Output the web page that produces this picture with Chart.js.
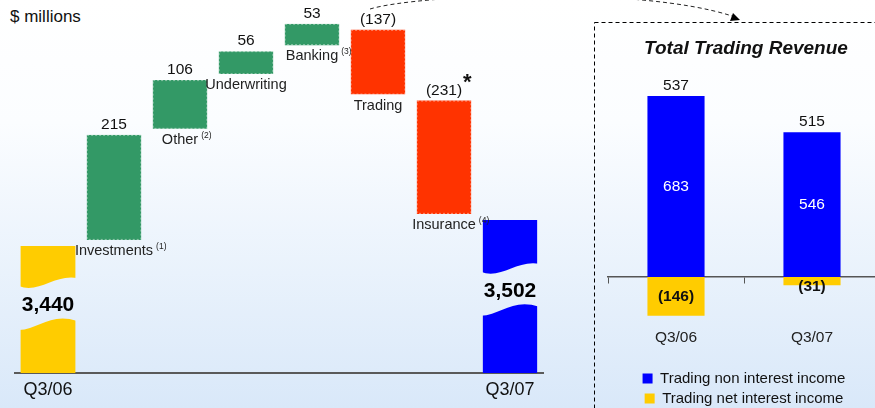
<!DOCTYPE html>
<html>
<head>
<meta charset="utf-8">
<script src="https://cdn.jsdelivr.net/npm/chart.js@4/dist/chart.umd.min.js"></script>
<style>
  html, body { margin: 0; padding: 0; width: 875px; height: 408px; overflow: hidden; }
  body {
    position: relative;
    background: linear-gradient(to bottom, #ffffff 0%, #fbfdff 30%, #d9e8f9 100%);
    font-family: "Liberation Sans", Arial, sans-serif;
  }
  #leftBox { position: absolute; left: 0; top: 0; width: 590px; height: 408px; }
  #rightBox { position: absolute; left: 596px; top: 0; width: 300px; height: 416px; }
  .unit { position: absolute; left: 10px; top: 8px; font-size: 17px; line-height: 17px; color: #111; }
  .panelTitle { position: absolute; left: 596px; width: 300px; top: 38px; text-align: center;
    font: italic bold 19px/20px "Liberation Sans", Arial, sans-serif; color: #111; }
  #overlay { position: absolute; left: 0; top: 0; pointer-events: none; }
</style>
</head>
<body>
<div class="unit">$ millions</div>
<div id="leftBox"><canvas id="bridgeChart" width="590" height="408"></canvas></div>
<div id="rightBox"><canvas id="tradingChart" width="300" height="416"></canvas></div>
<div class="panelTitle">Total Trading Revenue</div>
<svg id="overlay" width="875" height="408">
  <rect x="594.5" y="22.5" width="400" height="500" fill="none" stroke="#000" stroke-width="1" stroke-dasharray="4 3"/>
  <path d="M 370 9 C 420 -6, 640 -14, 732 16" fill="none" stroke="#222" stroke-width="1" stroke-dasharray="4 3"/>
  <polygon points="740,20 730,21 733,13" fill="#000"/>
</svg>
<script>
// Earnings bridge Q3/06 -> Q3/07 ($ millions)
const categories = ['Q3/06', 'Investments', 'Other', 'Underwriting', 'Banking', 'Trading', 'Insurance', 'Q3/07'];
const categoryNotes = ['', '(1)', '(2)', '', '(3)', '', '(4)', ''];
const startTotal = 3440;
const stepChanges = [215, 106, 56, 53, -137, -231];
const endTotal = 3502;
const starredCategory = 'Insurance';

// Total trading revenue panel
const tradingPeriods = ['Q3/06', 'Q3/07'];
const tradingNonInterest = [683, 546];
const tradingNetInterest = [-146, -31];

const GREEN = '#339966', RED = '#ff3300', YELLOW = '#ffcc00', BLUE = '#0000ff';
const STEP_GAP = 6;
const FONT = '"Liberation Sans", Arial, sans-serif';

// floating bars for the bridge
let running = startTotal;
const bridgeData = [[0, startTotal]];
stepChanges.forEach(v => {
    bridgeData.push([running, running + v]);
    running += v;
});
bridgeData.push([0, endTotal]);

const lastIdx = categories.length - 1;
const isTotal = i => i === 0 || i === lastIdx;
const barColors = bridgeData.map((d, i) => {
    if (i === 0) return YELLOW;
    if (i === lastIdx) return BLUE;
    return stepChanges[i - 1] >= 0 ? GREEN : RED;
});

function fmt(v) {
    const s = Math.abs(v).toLocaleString('en-US');
    return v < 0 ? '(' + s + ')' : s;
}

// which side of bar i gets a small gap (the side touching the previous level)
function gapSide(i) {
    if (i === 0) return null;
    if (i === lastIdx) return 'top';
    return stepChanges[i - 1] >= 0 ? 'bottom' : 'top';
}

function paintedRect(chart, bar, i) {
    let top = bar.y;
    let bottom = Math.min(bar.base, chart.chartArea.bottom);
    const side = gapSide(i);
    if (side === 'top') top += STEP_GAP;
    if (side === 'bottom') bottom -= STEP_GAP;
    return { left: bar.x - bar.width / 2, right: bar.x + bar.width / 2, top, bottom };
}

const bridgeLabels = {
    id: 'bridgeLabels',
    afterDatasetsDraw(chart) {
        const ctx = chart.ctx;
        const bars = chart.getDatasetMeta(0).data;
        bars.forEach((bar, i) => {
            const r = paintedRect(chart, bar, i);
            const w = r.right - r.left;
            ctx.save();
            if (isTotal(i)) {
                // wavy axis break
                const yc = r.top + 0.45 * (r.bottom - r.top);
                const hh = 20;
                const x0 = r.left - 2, x1 = r.right + 2, bw = x1 - x0;
                const up = yc - hh, lo = yc + hh;
                ctx.globalCompositeOperation = 'destination-out';
                ctx.beginPath();
                ctx.moveTo(x0, up + 3);
                ctx.bezierCurveTo(x0 + 0.35 * bw, up + 11, x0 + 0.6 * bw, up - 9, x1, up - 5);
                ctx.lineTo(x1, lo - 2);
                ctx.bezierCurveTo(x0 + 0.55 * bw, lo - 11, x0 + 0.35 * bw, lo + 6, x0, lo + 7);
                ctx.closePath();
                ctx.fill();
                ctx.globalCompositeOperation = 'source-over';
                ctx.fillStyle = '#000';
                ctx.font = 'bold 21px ' + FONT;
                ctx.textAlign = 'center';
                ctx.textBaseline = 'middle';
                ctx.fillText(fmt(i === 0 ? startTotal : endTotal), bar.x, yc + 2);
            } else {
                const change = stepChanges[i - 1];
                // light dashed outline
                ctx.strokeStyle = 'rgba(255,255,255,0.45)';
                ctx.lineWidth = 1;
                ctx.setLineDash([2, 2]);
                ctx.strokeRect(r.left + 0.5, r.top + 0.5, w - 1, r.bottom - r.top - 1);
                ctx.setLineDash([]);
                // value above
                ctx.fillStyle = '#111';
                ctx.font = '15.5px ' + FONT;
                ctx.textAlign = 'center';
                ctx.textBaseline = 'alphabetic';
                const txt = fmt(change);
                ctx.fillText(txt, bar.x, r.top - 6);
                if (categories[i] === starredCategory) {
                    const tw = ctx.measureText(txt).width;
                    ctx.font = 'bold 22px ' + FONT;
                    ctx.textAlign = 'left';
                    ctx.fillText('*', bar.x + tw / 2 + 1, r.top - 12);
                }
                // category name below
                ctx.font = '14.5px ' + FONT;
                ctx.textAlign = 'center';
                ctx.fillStyle = '#222';
                ctx.fillText(categories[i], bar.x, r.bottom + 15);
                if (categoryNotes[i]) {
                    const nw = ctx.measureText(categories[i]).width;
                    ctx.font = '8.5px ' + FONT;
                    ctx.textAlign = 'left';
                    ctx.fillText(categoryNotes[i], bar.x + nw / 2 + 3, r.bottom + 9);
                }
            }
            ctx.restore();
        });
    }
};

new Chart(document.getElementById('bridgeChart'), {
    type: 'bar',
    data: {
        labels: categories,
        datasets: [{
            data: bridgeData,
            backgroundColor: barColors,
            borderColor: 'rgba(0,0,0,0)',
            borderSkipped: false,
            borderWidth: ctx => {
                const side = gapSide(ctx.dataIndex);
                if (!side) return 0;
                const bw = { top: 0, bottom: 0, left: 0, right: 0 };
                bw[side] = STEP_GAP;
                return bw;
            },
            barPercentage: 0.83,
            categoryPercentage: 1
        }]
    },
    options: {
        responsive: false,
        animation: false,
        layout: { padding: { left: 15, right: 47, top: 15, bottom: 1.4 } },
        plugins: { legend: { display: false }, tooltip: { enabled: false } },
        scales: {
            x: {
                grid: { display: false, drawTicks: false },
                border: { display: true, color: '#5a5a5a', width: 2 },
                ticks: {
                    padding: 6, color: '#111', autoSkip: false, maxRotation: 0,
                    font: { size: 18, family: FONT },
                    callback: (v, i) => isTotal(i) ? categories[i] : ''
                }
            },
            y: { display: false, min: 3194, max: 3887 }
        }
    },
    plugins: [bridgeLabels]
});

// trading panel
const tradingTotals = tradingNonInterest.map((v, i) => v + tradingNetInterest[i]);

const tradingLabels = {
    id: 'tradingLabels',
    afterDatasetsDraw(chart) {
        const ctx = chart.ctx;
        ctx.save();
        ctx.textAlign = 'center';
        chart.getDatasetMeta(0).data.forEach((bar, i) => {
            ctx.font = '15.5px ' + FONT;
            ctx.fillStyle = '#111';
            ctx.textBaseline = 'alphabetic';
            ctx.fillText(fmt(tradingTotals[i]), bar.x, bar.y - 6);
            ctx.fillStyle = '#fff';
            ctx.textBaseline = 'middle';
            ctx.fillText(fmt(tradingNonInterest[i]), bar.x, (bar.y + bar.base) / 2);
        });
        chart.getDatasetMeta(1).data.forEach((bar, i) => {
            ctx.font = 'bold 15.5px ' + FONT;
            ctx.fillStyle = '#111';
            ctx.textBaseline = 'middle';
            ctx.fillText(fmt(tradingNetInterest[i]), bar.x, Math.max((bar.y + bar.base) / 2, bar.base + 10));
        });
        ctx.restore();
    }
};

new Chart(document.getElementById('tradingChart'), {
    type: 'bar',
    data: {
        labels: tradingPeriods,
        datasets: [
            { label: 'Trading non interest income', data: tradingNonInterest, backgroundColor: BLUE, borderWidth: 0, barPercentage: 0.42, categoryPercentage: 1 },
            { label: 'Trading net interest income', data: tradingNetInterest, backgroundColor: YELLOW, borderWidth: 0, barPercentage: 0.42, categoryPercentage: 1 }
        ]
    },
    options: {
        responsive: false,
        animation: false,
        layout: { padding: { left: 12, right: 16, top: 60, bottom: 0 } },
        plugins: {
            tooltip: { enabled: false },
            legend: {
                position: 'bottom',
                labels: { boxWidth: 10, boxHeight: 10, padding: 5, color: '#111', font: { size: 15, family: FONT } }
            }
        },
        scales: {
            x: {
                stacked: true,
                position: { y: 0 },
                grid: { drawOnChartArea: false, drawTicks: true, tickLength: 6, color: '#555', offset: true },
                border: { color: '#555', width: 1.5 },
                ticks: { padding: 45, color: '#222', font: { size: 15.5, family: FONT } }
            },
            y: { stacked: true, display: false, min: -336, max: 819 }
        }
    },
    plugins: [tradingLabels]
});
</script>
</body>
</html>
